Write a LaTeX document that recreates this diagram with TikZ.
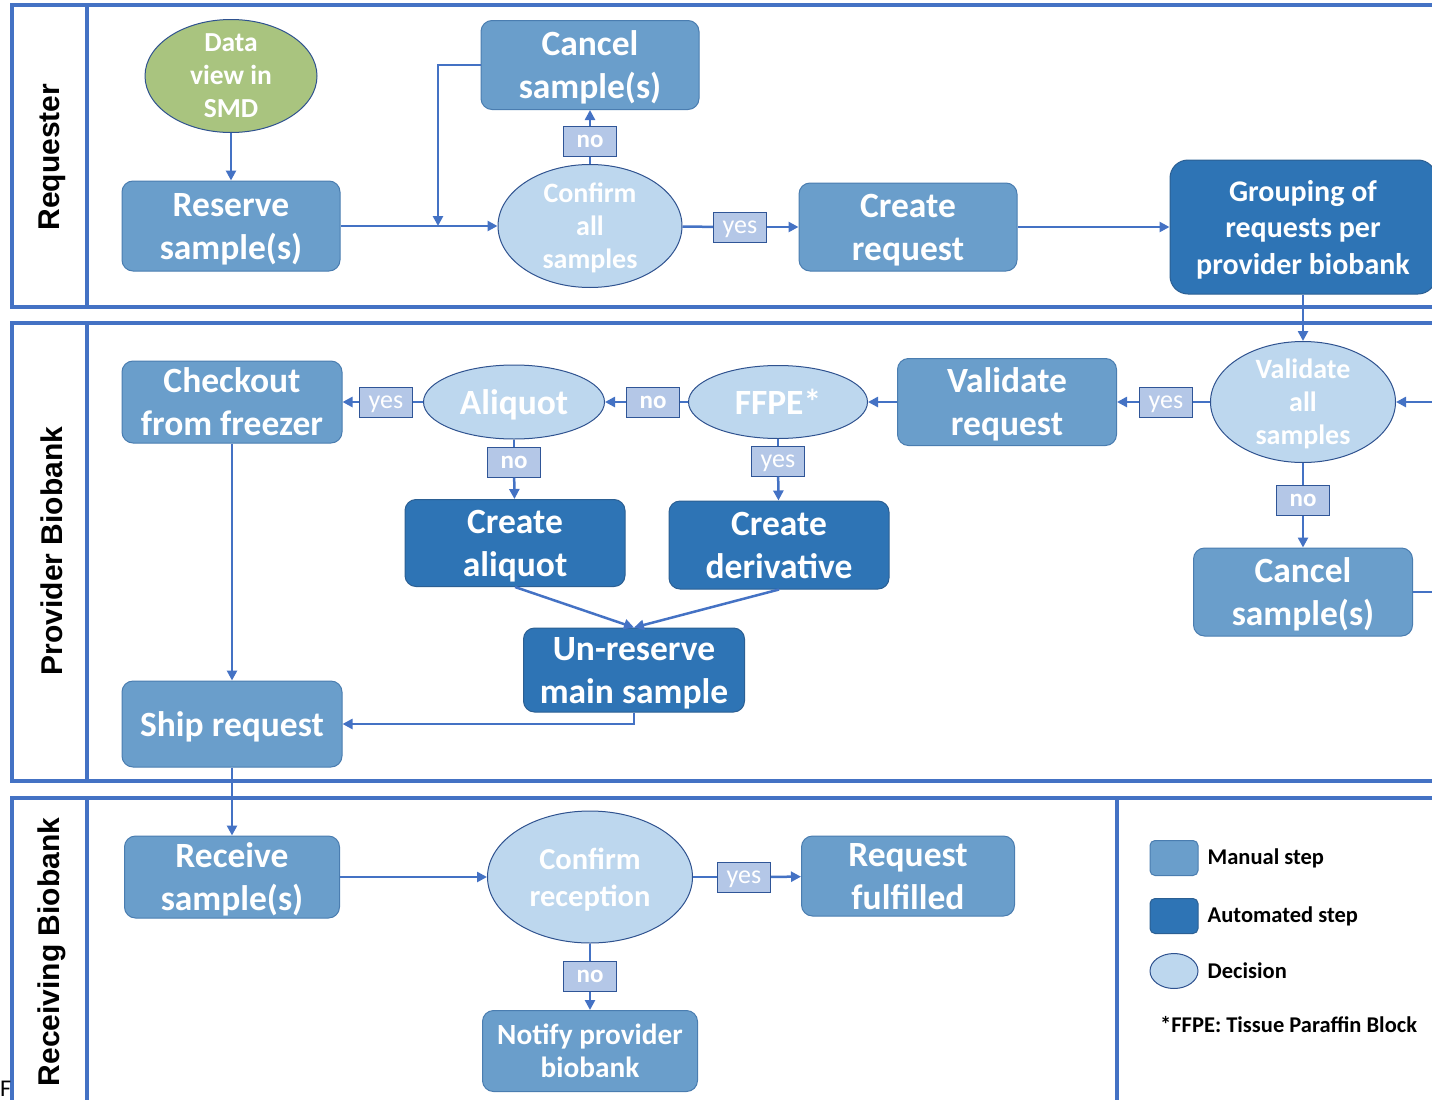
\documentclass[tikz,border=0pt]{standalone}
\usepackage{fontspec}
\setmainfont{Carlito}
\newfontfamily\lanefont{Liberation Sans}
\usetikzlibrary{shapes.geometric,positioning,arrows.meta}

\definecolor{laneblue}{HTML}{4472C4}
\definecolor{manualfill}{HTML}{6A9ECB}
\definecolor{manualedge}{HTML}{4A7DB0}
\definecolor{autofill}{HTML}{2E74B5}
\definecolor{autoedge}{HTML}{2B5F93}
\definecolor{decfill}{HTML}{BDD7EE}
\definecolor{decedge}{HTML}{2F528F}
\definecolor{lblfill}{HTML}{B4C7E7}
\definecolor{lbledge}{HTML}{2F5597}
\definecolor{smdgreen}{HTML}{A9C47F}

\begin{document}
\begin{tikzpicture}[x=1pt, y=-1pt,
  lane/.style={draw=laneblue, line width=3.5pt},
  lanelabel/.style={font=\lanefont\bfseries\fontsize{30}{36}\selectfont, rotate=90},
  manual/.style={rectangle, rounded corners=11pt, fill=manualfill, draw=manualedge, line width=1pt,
    text=white, align=center, inner sep=0pt, minimum width=218pt, minimum height=88pt,
    text depth=0pt, font=\bfseries\fontsize{35.5}{43}\selectfont},
  auto/.style={manual, fill=autofill, draw=autoedge},
  decision/.style={ellipse, fill=decfill, draw=decedge, line width=1pt, text=white, align=center,
    inner sep=-8pt, text depth=0pt, font=\bfseries\fontsize{28}{33}\selectfont},
  lbl/.style={rectangle, fill=lblfill, draw=lbledge, line width=1pt, text=white, inner sep=0pt,
    minimum width=53pt, minimum height=30pt, text depth=0pt, font=\fontsize{26}{30}\selectfont},
  lblno/.style={lbl, font=\bfseries\fontsize{25}{30}\selectfont},
  link/.style={draw=laneblue, line width=2.5pt},
  flow/.style={link, -{Triangle[length=10pt, width=10pt]}},
  legtext/.style={font=\bfseries\fontsize{22.5}{26}\selectfont, anchor=west, inner sep=0pt},
]
\clip (0,0) rectangle (1432,1100);

% ====== Swimlanes ======
\draw[lane] (12,5) rectangle (1460,307);
\draw[lane] (87,5) -- (87,307);
\draw[lane] (12,323) rectangle (1460,781);
\draw[lane] (87,323) -- (87,781);
\draw[lane] (12,798) rectangle (1460,1140);
\draw[lane] (87,798) -- (87,1140);
\draw[lane] (1117,798) -- (1117,1140);
\node[lanelabel] (reqlane) at (52,157) {Requester};
\node[lanelabel] (provlane) at (52,551) {Provider Biobank};
\node[lanelabel] (recvlane) at (52,952) {Receiving Biobank};

% ====== Requester ======
\node[ellipse, fill=smdgreen, draw=decedge, line width=1pt, text=white, align=center, inner sep=-8pt,
  minimum width=172pt, minimum height=113pt, text depth=0pt, font=\bfseries\fontsize{27.5}{33}\selectfont]
  (dataview) at (231,76) {Data\\view in\\SMD};
\node[manual, minimum height=90pt] (reserve) at (231,226) {Reserve\\sample(s)};
\node[manual, minimum height=89pt] (cancelreq) at (590,65) {Cancel\\sample(s)};
\node[decision, minimum width=184pt, minimum height=123pt] (confirmall) at (590,226)
  {Confirm\\all\\samples};
\node[lblno] (noA) at (590,141) {no};
\node[lbl] (yesA) at (740,227) {yes};
\node[manual] (createreq) at (908,227) {Create\\request};
\node[auto, minimum width=266pt, minimum height=134pt, rounded corners=18pt,
  font=\bfseries\fontsize{30}{36.5}\selectfont] (grouping) at (1303,227)
  {Grouping of\\requests per\\provider biobank};
\coordinate (loopin) at (438,226);

\draw[flow] (dataview) -- (reserve);
\draw[flow] (reserve) -- (confirmall);
\draw[link] (confirmall) -- (noA);
\draw[flow] (noA) -- (cancelreq);
\draw[flow] (cancelreq.west) -| (loopin);
\draw[link] (confirmall) -- (yesA);
\draw[flow] (yesA) -- (createreq);
\draw[flow] (createreq) -- (grouping);

% ====== Provider Biobank ======
\node[decision, minimum width=185pt, minimum height=121pt] (validall) at (1303,402)
  {Validate\\all\\samples};
\node[lbl] (yesB) at (1166,402) {yes};
\node[manual, minimum width=219pt, minimum height=87pt] (validreq) at (1007,402) {Validate\\request};
\node[decision, minimum width=179pt, minimum height=73pt, font=\bfseries\fontsize{35.5}{43}\selectfont]
  (ffpe) at (778,402) {FFPE*};
\node[lblno] (noB) at (653,402) {no};
\node[decision, minimum width=181pt, minimum height=74pt, font=\bfseries\fontsize{35.5}{43}\selectfont]
  (aliquot) at (514,402) {Aliquot};
\node[lbl] (yesC) at (386,402) {yes};
\node[manual, minimum width=220pt, minimum height=82pt] (checkout) at (232,402) {Checkout\\from freezer};
\node[lblno] (noC) at (514,462) {no};
\node[lbl] (yesD) at (778,461) {yes};
\node[auto, minimum width=220pt, minimum height=87pt] (mkaliquot) at (515,543) {Create\\aliquot};
\node[auto, minimum width=220pt, minimum height=88pt] (mkderiv) at (779,545) {Create\\derivative};
\node[auto, minimum width=221pt, minimum height=84pt] (unreserve) at (634,670) {Un-reserve\\main sample};
\node[manual, minimum width=220pt, minimum height=86pt] (ship) at (232,724) {Ship request};
\node[lblno] (noE) at (1303,500) {no};
\node[manual, minimum width=219pt] (cancelprov) at (1303,592) {Cancel\\sample(s)};
\coordinate (edgein) at (1440,402);
\coordinate (edgeout) at (1440,592);

\draw[flow] (grouping) -- (validall);
\draw[flow] (edgein) -- (validall);
\draw[link] (validall) -- (yesB);
\draw[flow] (yesB) -- (validreq);
\draw[flow] (validreq) -- (ffpe);
\draw[link] (ffpe) -- (noB);
\draw[flow] (noB) -- (aliquot);
\draw[link] (aliquot) -- (yesC);
\draw[flow] (yesC) -- (checkout);
\draw[link] (aliquot) -- (noC);
\draw[flow] (noC) -- (mkaliquot);
\draw[link] (ffpe) -- (yesD);
\draw[flow] (yesD) -- (mkderiv);
\draw[flow] (mkaliquot.south) -- (unreserve.north);
\draw[flow] (mkderiv.south) -- (unreserve.north);
\draw[flow] (unreserve.south) |- (ship.east);
\draw[flow] (checkout) -- (ship);
\draw[link] (validall) -- (noE);
\draw[flow] (noE) -- (cancelprov);
\draw[link] (cancelprov) -- (edgeout);

% ====== Receiving Biobank ======
\node[manual, minimum width=215pt, minimum height=82pt] (receive) at (232,877) {Receive\\sample(s)};
\node[decision, minimum width=205pt, minimum height=132pt, font=\bfseries\fontsize{30.5}{37}\selectfont]
  (confirmrec) at (590,877) {Confirm\\reception};
\node[lbl] (yesE) at (744,877) {yes};
\node[manual, minimum width=213pt, minimum height=80pt] (fulfilled) at (908,876) {Request\\fulfilled};
\node[lblno] (noF) at (590,976) {no};
\node[manual, minimum width=215pt, minimum height=81pt, font=\bfseries\fontsize{29.3}{33}\selectfont]
  (notify) at (590,1051) {Notify provider\\biobank};

\draw[flow] (ship) -- (receive);
\draw[flow] (receive) -- (confirmrec);
\draw[link] (confirmrec) -- (yesE);
\draw[flow] (yesE) -- (fulfilled);
\draw[link] (confirmrec) -- (noF);
\draw[flow] (noF) -- (notify);

% ====== Legend ======
\node[manual, minimum width=48pt, minimum height=35pt, rounded corners=5pt] (keymanual) at (1174,858) {};
\node[legtext, right=9pt of keymanual] (txtmanual) {Manual step};
\node[auto, minimum width=48pt, minimum height=35pt, rounded corners=5pt] (keyauto) at (1174,916) {};
\node[legtext, right=9pt of keyauto] (txtauto) {Automated step};
\node[decision, inner sep=0pt, minimum width=48pt, minimum height=35pt] (keydec) at (1174,971) {};
\node[legtext, right=9pt of keydec] (txtdec) {Decision};
\node[legtext] (ffpenote) at (1160,1025) {*FFPE: Tissue Paraffin Block};
\node[anchor=west, inner sep=0pt, font=\fontsize{24}{28}\selectfont] (stray) at (0,1089) {F};

\end{tikzpicture}
\end{document}
